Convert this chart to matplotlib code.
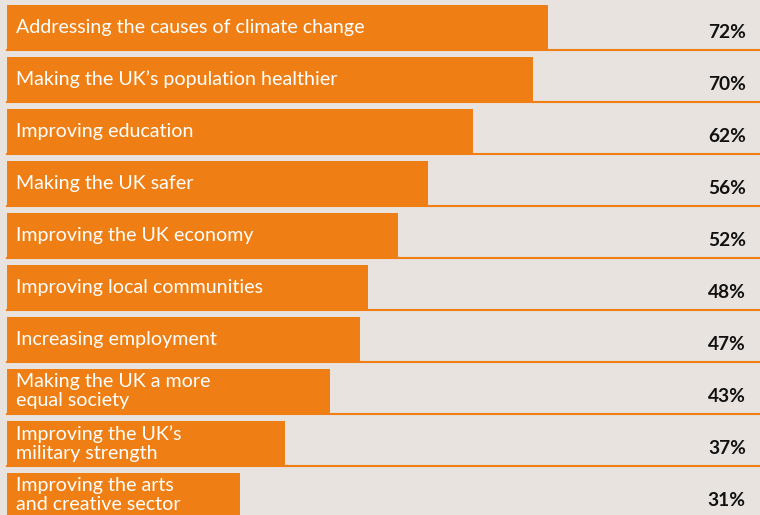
import matplotlib
matplotlib.use('Agg')
import matplotlib.pyplot as plt

# Values
labels = [
    'Addressing the causes of climate change',
    "Making the UK\u2019s population healthier",
    'Improving education',
    'Making the UK safer',
    'Improving the UK economy',
    'Improving local communities',
    'Increasing employment',
    'Making the UK a more\nequal society',
    "Improving the UK\u2019s\nmilitary strength",
    'Improving the arts\nand creative sector',
]
values = [72, 70, 62, 56, 52, 48, 47, 43, 37, 31]

orange = '#EF7F14'
bg = '#E8E3DF'

plt.rcParams['font.family'] = ['Lato', 'DejaVu Sans']

fig = plt.figure(figsize=(7.6, 5.15), dpi=100, facecolor=bg)
ax = fig.add_axes([0, 0, 1, 1], facecolor=bg)

row_h = 52
bar_h = 45.5
top0 = 5

for i, (lab, v) in enumerate(zip(labels, values)):
    top = top0 + row_h * i
    ax.barh(top, v, height=bar_h, align='edge', color=orange, zorder=2)
    # thin orange rule under each row
    ax.plot([0, 100], [top + bar_h - 0.5, top + bar_h - 0.5], color=orange, lw=1.5, zorder=1)
    ax.text(1.2, top + bar_h / 2 - 0.5, lab, color='white', fontsize=14.1,
            va='center', ha='left', linespacing=1.12, zorder=3)
    ax.text(98.3, top + 28, f'{v}%', color='#111111', fontsize=13.8,
            fontweight='bold', va='center', ha='right', zorder=3)

ax.set_xlim(-7 / 7.515, 100 + 1.5 / 7.515)
ax.set_ylim(515, 0)
ax.axis('off')

fig.savefig('out.png', dpi=100, facecolor=bg)
